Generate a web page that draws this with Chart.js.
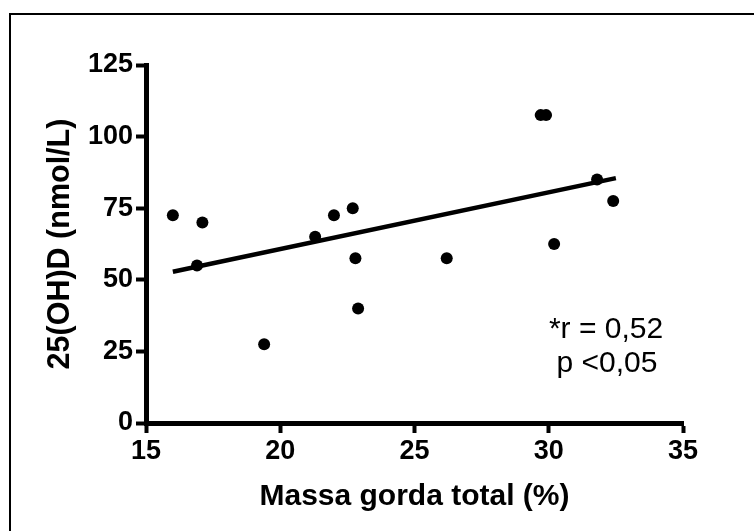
<!DOCTYPE html>
<html>
<head>
<meta charset="utf-8">
<script src="https://cdn.jsdelivr.net/npm/chart.js@4/dist/chart.umd.min.js"></script>
<style>
  html, body { margin: 0; padding: 0; background: #fff; }
  #wrap { width: 754px; height: 531px; position: relative; }
</style>
</head>
<body>
<div id="wrap"><canvas id="chart"></canvas></div>
<script>
// values
var massaGorda = [16.0, 17.1, 16.9, 19.4, 21.3, 22.0, 22.7, 22.8, 22.9, 26.2, 29.7, 29.9, 30.2, 31.8, 32.4];
var vitD = [72.5, 70, 55, 27.5, 65, 72.5, 75, 57.5, 40, 57.5, 107.5, 107.5, 62.5, 85, 77.5];
// regression line ends
var fitX = [16.0, 32.5];
var fitY = [52.8, 85.5];
var xTicks = [15, 20, 25, 30, 35];
var yTicks = [0, 25, 50, 75, 100, 125];
var xTitle = "Massa gorda total (%)";
var yTitle = "25(OH)D (nmol/L)";
var statText = ["*r = 0,52", "p <0,05"];

var fontFam = 'Arial, "Liberation Sans", sans-serif';

var scatterPts = massaGorda.map(function(x, i) { return {x: x, y: vitD[i]}; });
var linePts = fitX.map(function(x, i) { return {x: x, y: fitY[i]}; });

// frame + the r / p text
var extras = {
  id: 'extras',
  beforeDraw: function(chart) {
    var ctx = chart.ctx;
    ctx.save();
    ctx.fillStyle = '#fff';
    ctx.fillRect(0, 0, chart.width, chart.height);
    ctx.strokeStyle = '#000';
    ctx.lineWidth = 2;
    ctx.beginPath();
    ctx.moveTo(10, chart.height);
    ctx.lineTo(10, 14);
    ctx.lineTo(chart.width, 14);
    ctx.stroke();
    ctx.restore();
  },
  afterDraw: function(chart) {
    var ctx = chart.ctx;
    ctx.save();
    ctx.fillStyle = '#000';
    ctx.font = '30px ' + fontFam;
    ctx.textAlign = 'center';
    ctx.textBaseline = 'alphabetic';
    ctx.fillText(statText[0], 606, 338);
    ctx.fillText(statText[1], 607, 372);
    ctx.restore();
  }
};

new Chart(document.getElementById('chart'), {
  type: 'scatter',
  data: {
    datasets: [
      {
        data: scatterPts,
        backgroundColor: '#000',
        borderColor: '#000',
        pointRadius: 6,
        pointHoverRadius: 6,
        borderWidth: 0
      },
      {
        type: 'line',
        data: linePts,
        borderColor: '#000',
        borderWidth: 4.5,
        pointRadius: 0,
        fill: false
      }
    ]
  },
  options: {
    responsive: true,
    maintainAspectRatio: false,
    animation: false,
    events: [],
    layout: { padding: { left: 0, right: 71, top: 65, bottom: 0 } },
    plugins: { legend: { display: false }, tooltip: { enabled: false } },
    scales: {
      x: {
        type: 'linear',
        min: 15, max: 35,
        afterFit: function(s) { s.height = 108; },
        afterBuildTicks: function(s) { s.ticks = xTicks.map(function(v) { return {value: v}; }); },
        border: { display: true, color: '#000', width: 5 },
        grid: { drawOnChartArea: false, drawTicks: true, tickLength: 10, tickWidth: 4, tickColor: '#000' },
        ticks: { color: '#000', padding: 2, maxRotation: 0, font: { family: fontFam, size: 27, weight: 'bold' } },
        title: { display: true, text: xTitle, color: '#000', padding: { top: 0, bottom: 16 }, font: { family: fontFam, size: 30, weight: 'bold' } }
      },
      y: {
        type: 'linear',
        min: 0, max: 125,
        afterFit: function(s) { s.width = 146; },
        afterBuildTicks: function(s) { s.ticks = yTicks.map(function(v) { return {value: v}; }); },
        border: { display: true, color: '#000', width: 5 },
        grid: { drawOnChartArea: false, drawTicks: true, tickLength: 10, tickWidth: 4, tickColor: '#000' },
        ticks: { color: '#000', padding: 3, font: { family: fontFam, size: 27, weight: 'bold' } },
        title: { display: true, text: yTitle, color: '#000', padding: { top: 42, bottom: 0 }, font: { family: fontFam, size: 30.5, weight: 'bold' } }
      }
    }
  },
  plugins: [extras]
});
</script>
</body>
</html>
